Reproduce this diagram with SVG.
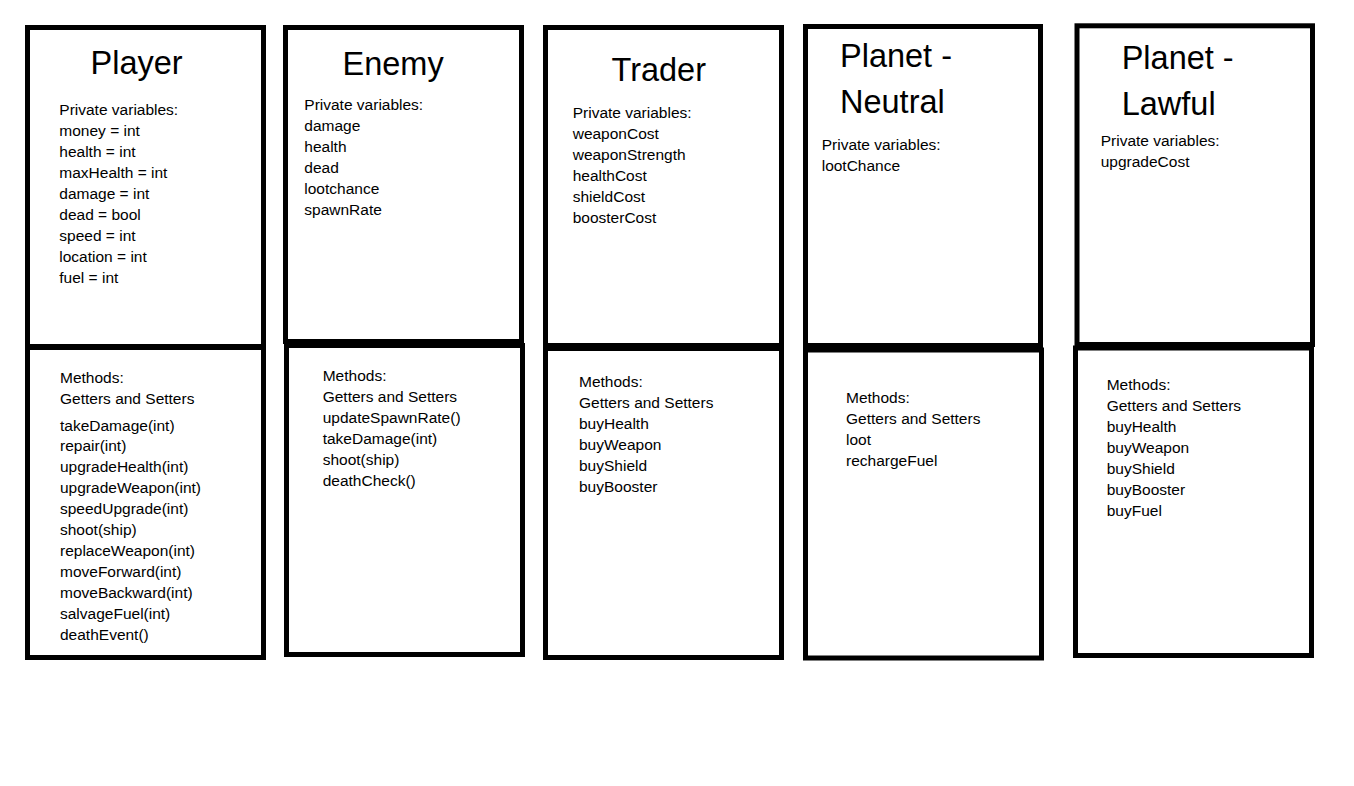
<svg xmlns="http://www.w3.org/2000/svg" width="1354" height="786" viewBox="0 0 1354 786">
<style>
.box{fill:none;stroke:#000;stroke-width:5}
.t{font-family:"Liberation Sans",Arial,sans-serif;font-size:32.5px;fill:#000}
.s{font-family:"Liberation Sans",Arial,sans-serif;font-size:15.5px;fill:#000}
</style>
<rect x="0" y="0" width="1354" height="786" fill="#fff"/>
<g id="connectors"></g>
<g id="player">
<rect class="box" x="27.5" y="27.5" width="236" height="319"/>
<rect class="box" x="27.5" y="347.5" width="236" height="310"/>
<text class="t" x="90.5" y="73.5">Player</text>
<text class="s" x="59.3" y="115">Private variables:</text>
<text class="s" x="59.3" y="136">money = int</text>
<text class="s" x="59.3" y="157">health = int</text>
<text class="s" x="59.3" y="178">maxHealth = int</text>
<text class="s" x="59.3" y="199">damage = int</text>
<text class="s" x="59.3" y="220">dead = bool</text>
<text class="s" x="59.3" y="241">speed = int</text>
<text class="s" x="59.3" y="262">location = int</text>
<text class="s" x="59.3" y="283">fuel = int</text>
<text class="s" x="60" y="383.3">Methods:</text>
<text class="s" x="60" y="404">Getters and Setters</text>
<text class="s" x="60" y="430.5">takeDamage(int)</text>
<text class="s" x="60" y="451.4">repair(int)</text>
<text class="s" x="60" y="472.3">upgradeHealth(int)</text>
<text class="s" x="60" y="493.2">upgradeWeapon(int)</text>
<text class="s" x="60" y="514.1">speedUpgrade(int)</text>
<text class="s" x="60" y="535">shoot(ship)</text>
<text class="s" x="60" y="555.9">replaceWeapon(int)</text>
<text class="s" x="60" y="576.8">moveForward(int)</text>
<text class="s" x="60" y="597.7">moveBackward(int)</text>
<text class="s" x="60" y="618.6">salvageFuel(int)</text>
<text class="s" x="60" y="639.5">deathEvent()</text>
</g>
<g id="enemy">
<rect class="box" x="285.5" y="27.5" width="236" height="314"/>
<rect class="box" x="286.5" y="345.5" width="236" height="309"/>
<text class="t" x="342.5" y="75">Enemy</text>
<text class="s" x="304.3" y="110">Private variables:</text>
<text class="s" x="304.3" y="131">damage</text>
<text class="s" x="304.3" y="152">health</text>
<text class="s" x="304.3" y="173">dead</text>
<text class="s" x="304.3" y="194">lootchance</text>
<text class="s" x="304.3" y="215">spawnRate</text>
<text class="s" x="322.7" y="381">Methods:</text>
<text class="s" x="322.7" y="402">Getters and Setters</text>
<text class="s" x="322.7" y="423">updateSpawnRate()</text>
<text class="s" x="322.7" y="444">takeDamage(int)</text>
<text class="s" x="322.7" y="465">shoot(ship)</text>
<text class="s" x="322.7" y="486">deathCheck()</text>
</g>
<g id="trader">
<rect class="box" x="545.5" y="27.5" width="236" height="318"/>
<rect class="box" x="545.5" y="348.5" width="236" height="309"/>
<text class="t" x="611.5" y="81">Trader</text>
<text class="s" x="572.7" y="117.7">Private variables:</text>
<text class="s" x="572.7" y="138.7">weaponCost</text>
<text class="s" x="572.7" y="159.7">weaponStrength</text>
<text class="s" x="572.7" y="180.7">healthCost</text>
<text class="s" x="572.7" y="201.7">shieldCost</text>
<text class="s" x="572.7" y="222.7">boosterCost</text>
<text class="s" x="579" y="387.3">Methods:</text>
<text class="s" x="579" y="408.3">Getters and Setters</text>
<text class="s" x="579" y="429.3">buyHealth</text>
<text class="s" x="579" y="450.3">buyWeapon</text>
<text class="s" x="579" y="471.3">buyShield</text>
<text class="s" x="579" y="492.3">buyBooster</text>
</g>
<g id="planet-neutral">
<rect class="box" x="805.5" y="26.5" width="235" height="319"/>
<rect class="box" x="805.5" y="350" width="236" height="308"/>
<text class="t" x="840" y="66.7">Planet -</text>
<text class="t" x="840" y="112.7">Neutral</text>
<text class="s" x="821.7" y="150">Private variables:</text>
<text class="s" x="821.7" y="171">lootChance</text>
<text class="s" x="846" y="403.3">Methods:</text>
<text class="s" x="846" y="424.3">Getters and Setters</text>
<text class="s" x="846" y="445.3">loot</text>
<text class="s" x="846" y="466.3">rechargeFuel</text>
</g>
<g id="planet-lawful">
<rect class="box" x="1077" y="25.8" width="235.5" height="318.7"/>
<rect class="box" x="1075.5" y="348" width="236" height="307.5"/>
<text class="t" x="1121.7" y="69">Planet -</text>
<text class="t" x="1121.7" y="115">Lawful</text>
<text class="s" x="1100.7" y="146">Private variables:</text>
<text class="s" x="1100.7" y="167">upgradeCost</text>
<text class="s" x="1106.7" y="390">Methods:</text>
<text class="s" x="1106.7" y="411">Getters and Setters</text>
<text class="s" x="1106.7" y="432">buyHealth</text>
<text class="s" x="1106.7" y="453">buyWeapon</text>
<text class="s" x="1106.7" y="474">buyShield</text>
<text class="s" x="1106.7" y="495">buyBooster</text>
<text class="s" x="1106.7" y="516">buyFuel</text>
</g>
</svg>
